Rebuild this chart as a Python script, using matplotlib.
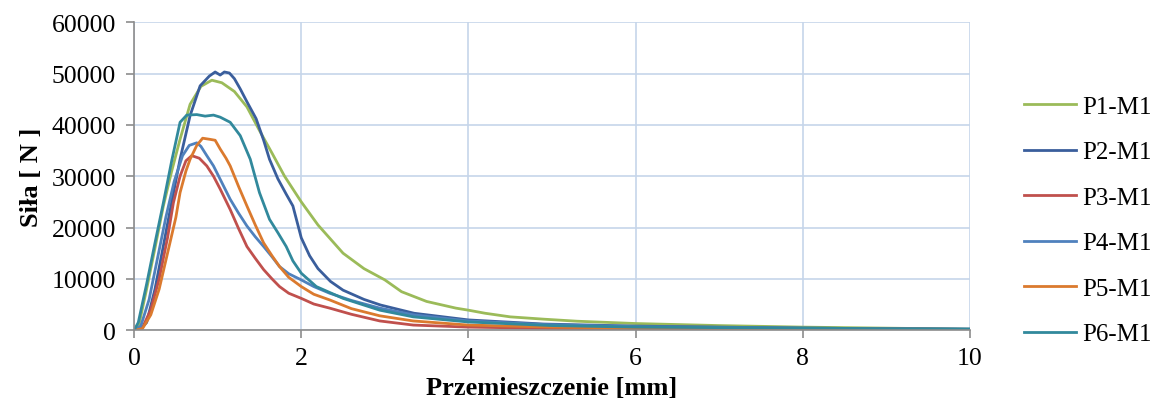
import matplotlib.pyplot as plt

# data
labels = ['P1-M1', 'P2-M1', 'P3-M1', 'P4-M1', 'P5-M1', 'P6-M1']
colors = ['#9BBB59', '#3A5E9C', '#C0504D', '#4F81BD', '#DB7A2E', '#31899C']

p1_x = [0, 0.05, 0.15, 0.25, 0.35, 0.45, 0.55, 0.67, 0.8, 0.93, 1.05, 1.2, 1.35, 1.5, 1.65, 1.8, 2.0, 2.2, 2.5, 2.75, 3.0, 3.2, 3.5, 3.85, 4.0, 4.2, 4.5, 4.9, 5.3, 6.0, 6.5, 7.0, 8.0, 9.0, 10.0]
p1_y = [0, 500, 8000, 16000, 24200, 31000, 37200, 44000, 47500, 48700, 48200, 46500, 43500, 38900, 34500, 30000, 25000, 20500, 15000, 12000, 9800, 7500, 5600, 4300, 3900, 3300, 2600, 2150, 1750, 1300, 1100, 900, 600, 400, 200]

p2_x = [0, 0.08, 0.15, 0.25, 0.35, 0.45, 0.55, 0.67, 0.79, 0.9, 0.97, 1.03, 1.08, 1.14, 1.2, 1.27, 1.35, 1.46, 1.55, 1.62, 1.72, 1.82, 1.9, 2.0, 2.1, 2.2, 2.35, 2.5, 2.75, 2.95, 3.35, 4.0, 4.9, 6.0, 8.0, 10.0]
p2_y = [0, 300, 1500, 8000, 16400, 25000, 33300, 41800, 47600, 49500, 50300, 49700, 50300, 50100, 49000, 47000, 44500, 41200, 37000, 33300, 29500, 26500, 24200, 18000, 14500, 12000, 9500, 7800, 6000, 4900, 3300, 2000, 1200, 800, 400, 200]

p3_x = [0, 0.1, 0.2, 0.3, 0.4, 0.47, 0.55, 0.62, 0.69, 0.78, 0.87, 0.95, 1.03, 1.15, 1.25, 1.35, 1.45, 1.55, 1.65, 1.74, 1.85, 2.0, 2.15, 2.34, 2.6, 2.94, 3.34, 4.0, 5.0, 6.0, 8.0, 10.0]
p3_y = [0, 500, 4000, 10000, 18000, 24800, 30000, 33000, 34000, 33500, 32000, 30000, 27500, 23500, 19800, 16300, 14000, 11800, 10000, 8500, 7200, 6200, 5100, 4300, 3100, 1800, 1000, 600, 350, 250, 200, 150]

p4_x = [0, 0.08, 0.18, 0.28, 0.38, 0.48, 0.58, 0.66, 0.75, 0.8, 0.87, 0.95, 1.03, 1.15, 1.25, 1.35, 1.45, 1.55, 1.65, 1.74, 1.85, 2.0, 2.15, 2.34, 2.6, 2.94, 3.34, 4.0, 4.9, 6.0, 8.0, 10.0]
p4_y = [0, 800, 6000, 14000, 22000, 29000, 34000, 36000, 36500, 35800, 34000, 32000, 29400, 25500, 22800, 20300, 18200, 16300, 14300, 12400, 11000, 9800, 8500, 7200, 5800, 4300, 3000, 1800, 1100, 700, 400, 200]

p5_x = [0, 0.1, 0.2, 0.3, 0.4, 0.5, 0.55, 0.62, 0.67, 0.75, 0.82, 0.9, 0.97, 1.03, 1.1, 1.15, 1.25, 1.35, 1.45, 1.55, 1.65, 1.74, 1.85, 2.0, 2.15, 2.34, 2.6, 2.94, 3.34, 4.0, 5.0, 6.0, 8.0, 10.0]
p5_y = [0, 300, 3000, 8000, 15000, 22000, 26800, 31000, 33300, 36000, 37400, 37200, 37000, 35300, 33500, 32000, 28000, 24200, 20500, 17000, 14500, 12400, 10300, 8500, 7000, 5900, 4200, 2800, 1800, 1000, 600, 400, 300, 150]

p6_x = [0, 0.05, 0.15, 0.25, 0.35, 0.45, 0.55, 0.63, 0.75, 0.85, 0.95, 1.03, 1.15, 1.27, 1.39, 1.5, 1.62, 1.72, 1.82, 1.9, 2.0, 2.18, 2.5, 2.94, 3.34, 4.0, 5.0, 6.0, 8.0, 10.0]
p6_y = [0, 1500, 9000, 17000, 24800, 33000, 40500, 41900, 42000, 41700, 41900, 41500, 40500, 37900, 33300, 26800, 21600, 19000, 16300, 13500, 11100, 8500, 6200, 3900, 2600, 1600, 900, 600, 400, 200]

series = [(p1_x, p1_y), (p2_x, p2_y), (p3_x, p3_y), (p4_x, p4_y), (p5_x, p5_y), (p6_x, p6_y)]

plt.rcParams['font.family'] = ['Liberation Serif', 'DejaVu Serif']

fig = plt.figure(figsize=(11.56, 4.14), dpi=100)
ax = fig.add_axes([0.116, 0.2, 0.723, 0.744])

for (x, y), c, lab in zip(series, colors, labels):
    ax.plot(x, y, color=c, lw=2.0, label=lab)

ax.set_xlim(0, 10)
ax.set_ylim(0, 60000)
ax.set_xticks(range(0, 11, 2))
ax.set_yticks(range(0, 60001, 10000))
ax.grid(True, color='#C6D5EA', lw=1.2)
ax.set_axisbelow(True)
for s in ['top', 'right']:
    ax.spines[s].set_visible(False)
for s in ['left', 'bottom']:
    ax.spines[s].set_color('#8C8C8C')
    ax.spines[s].set_linewidth(1.2)
ax.tick_params(colors='#8C8C8C', labelcolor='black', labelsize=18.5, length=6, width=1.2)
ax.tick_params(axis='y', pad=7)
ax.tick_params(axis='x', pad=6)

ax.set_xlabel('Przemieszczenie [mm]', fontsize=19, fontweight='bold', labelpad=5)
ax.set_ylabel('Siła [ N ]', fontsize=19, fontweight='bold', labelpad=6)

ax.legend(loc='center left', bbox_to_anchor=(0.877, 0.465), bbox_transform=fig.transFigure,
          frameon=False, fontsize=18, handlelength=2.1, labelspacing=0.92,
          handletextpad=0.25, borderaxespad=0)

plt.savefig('out.png', dpi=100)
